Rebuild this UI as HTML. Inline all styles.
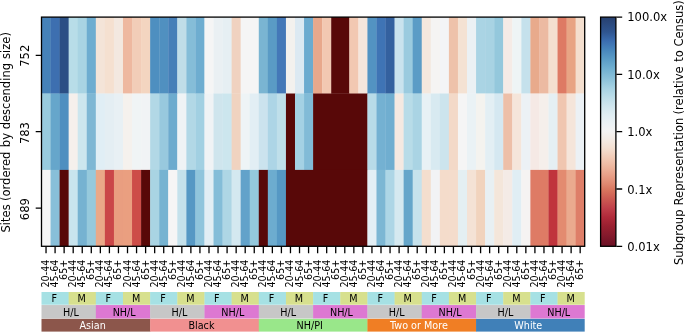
<!DOCTYPE html>
<html><head><meta charset="utf-8"><title>Subgroup Representation</title>
<style>html,body{margin:0;padding:0;background:#fff}svg{display:block}text{font-family:'DejaVu Sans','Liberation Sans',sans-serif;fill:#000}.s{font-size:9.62px}.b{font-size:11.55px}</style></head><body>
<svg width="685" height="333" viewBox="0 0 685 333">
<rect width="685" height="333" fill="#fff"/>
<defs><linearGradient id="g" x1="0" y1="0" x2="0" y2="1"><stop offset="0.0000" stop-color="#27406f"/><stop offset="0.0650" stop-color="#2f5590"/><stop offset="0.1043" stop-color="#3b6db0"/><stop offset="0.1435" stop-color="#4886bc"/><stop offset="0.1828" stop-color="#5a9cc6"/><stop offset="0.2221" stop-color="#6fafd0"/><stop offset="0.2701" stop-color="#8cc2da"/><stop offset="0.3093" stop-color="#a6d2e3"/><stop offset="0.3486" stop-color="#bcdde9"/><stop offset="0.3879" stop-color="#d0e6ee"/><stop offset="0.4271" stop-color="#e0eef3"/><stop offset="0.4664" stop-color="#ecf2f5"/><stop offset="0.4969" stop-color="#f4f4f4"/><stop offset="0.5318" stop-color="#f4ece6"/><stop offset="0.5711" stop-color="#f4e0d2"/><stop offset="0.6104" stop-color="#f2ccb8"/><stop offset="0.6497" stop-color="#eeb8a0"/><stop offset="0.6889" stop-color="#e8a088"/><stop offset="0.7282" stop-color="#e08870"/><stop offset="0.7544" stop-color="#d8755e"/><stop offset="0.7936" stop-color="#cc5a52"/><stop offset="0.8329" stop-color="#c0404a"/><stop offset="0.8722" stop-color="#b02a3a"/><stop offset="0.9114" stop-color="#9a2030"/><stop offset="0.9507" stop-color="#851a2c"/><stop offset="1.0000" stop-color="#6a1024"/></linearGradient></defs>
<g>
<rect x="41.50" y="17.10" width="9.35" height="76.70" fill="#4682b8"/>
<rect x="50.55" y="17.10" width="9.35" height="76.70" fill="#3d6fb0"/>
<rect x="59.61" y="17.10" width="9.35" height="76.70" fill="#2b4f85"/>
<rect x="68.66" y="17.10" width="9.35" height="76.70" fill="#b8dde8"/>
<rect x="77.71" y="17.10" width="9.35" height="76.70" fill="#a9d4e3"/>
<rect x="86.77" y="17.10" width="9.35" height="76.70" fill="#6eadd0"/>
<rect x="95.82" y="17.10" width="9.35" height="76.70" fill="#f4e4d8"/>
<rect x="104.87" y="17.10" width="9.35" height="76.70" fill="#f5e0d0"/>
<rect x="113.93" y="17.10" width="9.35" height="76.70" fill="#f3e8e0"/>
<rect x="122.98" y="17.10" width="9.35" height="76.70" fill="#eeb8a0"/>
<rect x="132.03" y="17.10" width="9.35" height="76.70" fill="#f2cdb8"/>
<rect x="141.09" y="17.10" width="9.35" height="76.70" fill="#f3d5c0"/>
<rect x="150.14" y="17.10" width="9.35" height="76.70" fill="#4e8fc0"/>
<rect x="159.19" y="17.10" width="9.35" height="76.70" fill="#5090c0"/>
<rect x="168.25" y="17.10" width="9.35" height="76.70" fill="#467fb8"/>
<rect x="177.30" y="17.10" width="9.35" height="76.70" fill="#c0dde8"/>
<rect x="186.35" y="17.10" width="9.35" height="76.70" fill="#85bdd8"/>
<rect x="195.41" y="17.10" width="9.35" height="76.70" fill="#6eadd0"/>
<rect x="204.46" y="17.10" width="9.35" height="76.70" fill="#f5f5f5"/>
<rect x="213.51" y="17.10" width="9.35" height="76.70" fill="#eaf0f3"/>
<rect x="222.57" y="17.10" width="9.35" height="76.70" fill="#e6eff3"/>
<rect x="231.62" y="17.10" width="9.35" height="76.70" fill="#f0d2c0"/>
<rect x="240.67" y="17.10" width="18.41" height="76.70" fill="#f5f5f5"/>
<rect x="258.78" y="17.10" width="9.35" height="76.70" fill="#7ab5d2"/>
<rect x="267.83" y="17.10" width="9.35" height="76.70" fill="#5a9bc5"/>
<rect x="276.89" y="17.10" width="9.35" height="76.70" fill="#4478b8"/>
<rect x="285.94" y="17.10" width="9.35" height="76.70" fill="#f3f1ee"/>
<rect x="294.99" y="17.10" width="9.35" height="76.70" fill="#dce9f2"/>
<rect x="304.05" y="17.10" width="9.35" height="76.70" fill="#6cabcf"/>
<rect x="313.10" y="17.10" width="9.35" height="76.70" fill="#e8a88c"/>
<rect x="322.15" y="17.10" width="9.35" height="76.70" fill="#f2c8b2"/>
<rect x="331.21" y="17.10" width="18.41" height="76.70" fill="#580808"/>
<rect x="349.31" y="17.10" width="9.35" height="76.70" fill="#f2c8b2"/>
<rect x="358.37" y="17.10" width="9.35" height="76.70" fill="#f5e6dc"/>
<rect x="367.42" y="17.10" width="9.35" height="76.70" fill="#5393c2"/>
<rect x="376.47" y="17.10" width="9.35" height="76.70" fill="#3f74b5"/>
<rect x="385.53" y="17.10" width="9.35" height="76.70" fill="#34619f"/>
<rect x="394.58" y="17.10" width="9.35" height="76.70" fill="#cae3ee"/>
<rect x="403.63" y="17.10" width="9.35" height="76.70" fill="#9bcbdf"/>
<rect x="412.69" y="17.10" width="9.35" height="76.70" fill="#5b9cc6"/>
<rect x="421.74" y="17.10" width="9.35" height="76.70" fill="#f4e8de"/>
<rect x="430.79" y="17.10" width="9.35" height="76.70" fill="#f5f4f3"/>
<rect x="439.85" y="17.10" width="9.35" height="76.70" fill="#f3f4f6"/>
<rect x="448.90" y="17.10" width="9.35" height="76.70" fill="#eec2aa"/>
<rect x="457.95" y="17.10" width="9.35" height="76.70" fill="#f4e2d3"/>
<rect x="467.01" y="17.10" width="9.35" height="76.70" fill="#ebf1f4"/>
<rect x="476.06" y="17.10" width="9.35" height="76.70" fill="#aad4e4"/>
<rect x="485.11" y="17.10" width="9.35" height="76.70" fill="#a8d3e3"/>
<rect x="494.17" y="17.10" width="9.35" height="76.70" fill="#94c8dc"/>
<rect x="503.22" y="17.10" width="9.35" height="76.70" fill="#f5ebe6"/>
<rect x="512.27" y="17.10" width="9.35" height="76.70" fill="#eef4f5"/>
<rect x="521.33" y="17.10" width="9.35" height="76.70" fill="#c5e1ec"/>
<rect x="530.38" y="17.10" width="9.35" height="76.70" fill="#e8aa8c"/>
<rect x="539.43" y="17.10" width="9.35" height="76.70" fill="#ecbaa2"/>
<rect x="548.49" y="17.10" width="9.35" height="76.70" fill="#f4dfcf"/>
<rect x="557.54" y="17.10" width="9.35" height="76.70" fill="#de7a64"/>
<rect x="566.59" y="17.10" width="9.35" height="76.70" fill="#e8a484"/>
<rect x="575.65" y="17.10" width="9.35" height="76.70" fill="#f4dfcf"/>
<rect x="41.50" y="93.50" width="9.35" height="76.70" fill="#98cbde"/>
<rect x="50.55" y="93.50" width="9.35" height="76.70" fill="#66a6cb"/>
<rect x="59.61" y="93.50" width="9.35" height="76.70" fill="#4f8fc0"/>
<rect x="68.66" y="93.50" width="9.35" height="76.70" fill="#f5f0ec"/>
<rect x="77.71" y="93.50" width="9.35" height="76.70" fill="#cce6ee"/>
<rect x="86.77" y="93.50" width="9.35" height="76.70" fill="#7eb7d4"/>
<rect x="95.82" y="93.50" width="9.35" height="76.70" fill="#e0eef5"/>
<rect x="104.87" y="93.50" width="9.35" height="76.70" fill="#e4eef3"/>
<rect x="113.93" y="93.50" width="9.35" height="76.70" fill="#e8f0f4"/>
<rect x="122.98" y="93.50" width="9.35" height="76.70" fill="#f5f1ed"/>
<rect x="132.03" y="93.50" width="9.35" height="76.70" fill="#f0f4f5"/>
<rect x="141.09" y="93.50" width="9.35" height="76.70" fill="#f1f3f5"/>
<rect x="150.14" y="93.50" width="9.35" height="76.70" fill="#b2d8e6"/>
<rect x="159.19" y="93.50" width="9.35" height="76.70" fill="#98c9de"/>
<rect x="168.25" y="93.50" width="9.35" height="76.70" fill="#6dabce"/>
<rect x="177.30" y="93.50" width="9.35" height="76.70" fill="#eff3f5"/>
<rect x="186.35" y="93.50" width="9.35" height="76.70" fill="#b2d8e6"/>
<rect x="195.41" y="93.50" width="9.35" height="76.70" fill="#a2d0e2"/>
<rect x="204.46" y="93.50" width="9.35" height="76.70" fill="#f0f3f5"/>
<rect x="213.51" y="93.50" width="9.35" height="76.70" fill="#cfe5ed"/>
<rect x="222.57" y="93.50" width="9.35" height="76.70" fill="#cce6ee"/>
<rect x="231.62" y="93.50" width="9.35" height="76.70" fill="#f0d3c0"/>
<rect x="240.67" y="93.50" width="9.35" height="76.70" fill="#eef4f6"/>
<rect x="249.73" y="93.50" width="9.35" height="76.70" fill="#e2eef4"/>
<rect x="258.78" y="93.50" width="9.35" height="76.70" fill="#cbe3ee"/>
<rect x="267.83" y="93.50" width="9.35" height="76.70" fill="#add5e6"/>
<rect x="276.89" y="93.50" width="9.35" height="76.70" fill="#bfdfea"/>
<rect x="285.94" y="93.50" width="9.35" height="76.70" fill="#580808"/>
<rect x="294.99" y="93.50" width="9.35" height="76.70" fill="#a4d1e4"/>
<rect x="304.05" y="93.50" width="9.35" height="76.70" fill="#82bbd7"/>
<rect x="313.10" y="93.50" width="54.62" height="76.70" fill="#580808"/>
<rect x="367.42" y="93.50" width="9.35" height="76.70" fill="#b8dbe8"/>
<rect x="376.47" y="93.50" width="9.35" height="76.70" fill="#74b1d2"/>
<rect x="385.53" y="93.50" width="9.35" height="76.70" fill="#70aed0"/>
<rect x="394.58" y="93.50" width="9.35" height="76.70" fill="#f5e9e1"/>
<rect x="403.63" y="93.50" width="9.35" height="76.70" fill="#b8dce8"/>
<rect x="412.69" y="93.50" width="9.35" height="76.70" fill="#aad4e4"/>
<rect x="421.74" y="93.50" width="9.35" height="76.70" fill="#e8f1f5"/>
<rect x="430.79" y="93.50" width="9.35" height="76.70" fill="#d8eaf1"/>
<rect x="439.85" y="93.50" width="9.35" height="76.70" fill="#cce4ed"/>
<rect x="448.90" y="93.50" width="9.35" height="76.70" fill="#f3d9c8"/>
<rect x="457.95" y="93.50" width="9.35" height="76.70" fill="#f5f5f5"/>
<rect x="467.01" y="93.50" width="9.35" height="76.70" fill="#eaf2f5"/>
<rect x="476.06" y="93.50" width="9.35" height="76.70" fill="#f4f3ef"/>
<rect x="485.11" y="93.50" width="9.35" height="76.70" fill="#e3eff4"/>
<rect x="494.17" y="93.50" width="9.35" height="76.70" fill="#d5e8f1"/>
<rect x="503.22" y="93.50" width="9.35" height="76.70" fill="#edbfa8"/>
<rect x="512.27" y="93.50" width="9.35" height="76.70" fill="#f5e5da"/>
<rect x="521.33" y="93.50" width="9.35" height="76.70" fill="#ecf1f5"/>
<rect x="530.38" y="93.50" width="9.35" height="76.70" fill="#f5e9e5"/>
<rect x="539.43" y="93.50" width="9.35" height="76.70" fill="#f5efeb"/>
<rect x="548.49" y="93.50" width="9.35" height="76.70" fill="#e5eff3"/>
<rect x="557.54" y="93.50" width="9.35" height="76.70" fill="#f0c6b0"/>
<rect x="566.59" y="93.50" width="9.35" height="76.70" fill="#f5e5da"/>
<rect x="575.65" y="93.50" width="9.35" height="76.70" fill="#ecf1f5"/>
<rect x="41.50" y="169.90" width="9.35" height="76.40" fill="#f5f5f5"/>
<rect x="50.55" y="169.90" width="9.35" height="76.40" fill="#88bfd9"/>
<rect x="59.61" y="169.90" width="9.35" height="76.40" fill="#580808"/>
<rect x="68.66" y="169.90" width="9.35" height="76.40" fill="#c8e4ee"/>
<rect x="77.71" y="169.90" width="9.35" height="76.40" fill="#76b2d1"/>
<rect x="86.77" y="169.90" width="9.35" height="76.40" fill="#96c9dc"/>
<rect x="95.82" y="169.90" width="9.35" height="76.40" fill="#eaa888"/>
<rect x="104.87" y="169.90" width="9.35" height="76.40" fill="#ca4648"/>
<rect x="113.93" y="169.90" width="9.35" height="76.40" fill="#e99e80"/>
<rect x="122.98" y="169.90" width="9.35" height="76.40" fill="#ea9f80"/>
<rect x="132.03" y="169.90" width="9.35" height="76.40" fill="#cd4d48"/>
<rect x="141.09" y="169.90" width="9.35" height="76.40" fill="#580808"/>
<rect x="150.14" y="169.90" width="9.35" height="76.40" fill="#a9d4e3"/>
<rect x="159.19" y="169.90" width="9.35" height="76.40" fill="#76b3d1"/>
<rect x="168.25" y="169.90" width="9.35" height="76.40" fill="#f6f5f5"/>
<rect x="177.30" y="169.90" width="9.35" height="76.40" fill="#c5e1eb"/>
<rect x="186.35" y="169.90" width="9.35" height="76.40" fill="#5698c4"/>
<rect x="195.41" y="169.90" width="9.35" height="76.40" fill="#90c5dc"/>
<rect x="204.46" y="169.90" width="9.35" height="76.40" fill="#e2eef4"/>
<rect x="213.51" y="169.90" width="9.35" height="76.40" fill="#84bdd8"/>
<rect x="222.57" y="169.90" width="9.35" height="76.40" fill="#aed6e5"/>
<rect x="231.62" y="169.90" width="9.35" height="76.40" fill="#d4e8f0"/>
<rect x="240.67" y="169.90" width="9.35" height="76.40" fill="#62a2ca"/>
<rect x="249.73" y="169.90" width="9.35" height="76.40" fill="#94c9dd"/>
<rect x="258.78" y="169.90" width="9.35" height="76.40" fill="#580808"/>
<rect x="267.83" y="169.90" width="9.35" height="76.40" fill="#6daccf"/>
<rect x="276.89" y="169.90" width="9.35" height="76.40" fill="#5698c4"/>
<rect x="285.94" y="169.90" width="81.78" height="76.40" fill="#580808"/>
<rect x="367.42" y="169.90" width="9.35" height="76.40" fill="#e3eff5"/>
<rect x="376.47" y="169.90" width="9.35" height="76.40" fill="#7cb7d4"/>
<rect x="385.53" y="169.90" width="9.35" height="76.40" fill="#add6e6"/>
<rect x="394.58" y="169.90" width="9.35" height="76.40" fill="#d5e9f0"/>
<rect x="403.63" y="169.90" width="9.35" height="76.40" fill="#65a6ca"/>
<rect x="412.69" y="169.90" width="9.35" height="76.40" fill="#c6e2ec"/>
<rect x="421.74" y="169.90" width="9.35" height="76.40" fill="#f4dece"/>
<rect x="430.79" y="169.90" width="9.35" height="76.40" fill="#f2f3f5"/>
<rect x="439.85" y="169.90" width="9.35" height="76.40" fill="#f4dccb"/>
<rect x="448.90" y="169.90" width="9.35" height="76.40" fill="#f4dccc"/>
<rect x="457.95" y="169.90" width="9.35" height="76.40" fill="#e4eff2"/>
<rect x="467.01" y="169.90" width="9.35" height="76.40" fill="#f4e2d5"/>
<rect x="476.06" y="169.90" width="9.35" height="76.40" fill="#f1d3bd"/>
<rect x="485.11" y="169.90" width="9.35" height="76.40" fill="#e8f0f3"/>
<rect x="494.17" y="169.90" width="9.35" height="76.40" fill="#f4e6da"/>
<rect x="503.22" y="169.90" width="9.35" height="76.40" fill="#f4ebe6"/>
<rect x="512.27" y="169.90" width="9.35" height="76.40" fill="#e0eef4"/>
<rect x="521.33" y="169.90" width="9.35" height="76.40" fill="#f5f3f2"/>
<rect x="530.38" y="169.90" width="18.41" height="76.40" fill="#de7b65"/>
<rect x="548.49" y="169.90" width="9.35" height="76.40" fill="#c0343c"/>
<rect x="557.54" y="169.90" width="9.35" height="76.40" fill="#e38b70"/>
<rect x="566.59" y="169.90" width="9.35" height="76.40" fill="#eaaa8e"/>
<rect x="575.65" y="169.90" width="9.35" height="76.40" fill="#de7e68"/>
</g>
<rect x="41.50" y="17.10" width="543.20" height="229.20" fill="none" stroke="#000" stroke-width="1.3"/>
<path d="M46.03 246.80v6.4M55.08 246.80v6.4M64.13 246.80v6.4M73.19 246.80v6.4M82.24 246.80v6.4M91.29 246.80v6.4M100.35 246.80v6.4M109.40 246.80v6.4M118.45 246.80v6.4M127.51 246.80v6.4M136.56 246.80v6.4M145.61 246.80v6.4M154.67 246.80v6.4M163.72 246.80v6.4M172.77 246.80v6.4M181.83 246.80v6.4M190.88 246.80v6.4M199.93 246.80v6.4M208.99 246.80v6.4M218.04 246.80v6.4M227.09 246.80v6.4M236.15 246.80v6.4M245.20 246.80v6.4M254.25 246.80v6.4M263.31 246.80v6.4M272.36 246.80v6.4M281.41 246.80v6.4M290.47 246.80v6.4M299.52 246.80v6.4M308.57 246.80v6.4M317.63 246.80v6.4M326.68 246.80v6.4M335.73 246.80v6.4M344.79 246.80v6.4M353.84 246.80v6.4M362.89 246.80v6.4M371.95 246.80v6.4M381.00 246.80v6.4M390.05 246.80v6.4M399.11 246.80v6.4M408.16 246.80v6.4M417.21 246.80v6.4M426.27 246.80v6.4M435.32 246.80v6.4M444.37 246.80v6.4M453.43 246.80v6.4M462.48 246.80v6.4M471.53 246.80v6.4M480.59 246.80v6.4M489.64 246.80v6.4M498.69 246.80v6.4M507.75 246.80v6.4M516.80 246.80v6.4M525.85 246.80v6.4M534.91 246.80v6.4M543.96 246.80v6.4M553.01 246.80v6.4M562.07 246.80v6.4M571.12 246.80v6.4M580.17 246.80v6.4M41.00 55.30h-5.3M41.00 131.70h-5.3M41.00 208.10h-5.3M616.40 17.10h5.8M616.40 74.40h5.8M616.40 131.70h5.8M616.40 189.00h5.8M616.40 246.30h5.8" stroke="#000" stroke-width="1.3" fill="none"/>
<g class="s">
<text transform="translate(49.03 259.6) rotate(-90)" text-anchor="end">20-44</text>
<text transform="translate(58.08 259.6) rotate(-90)" text-anchor="end">45-64</text>
<text transform="translate(67.13 259.6) rotate(-90)" text-anchor="end">65+</text>
<text transform="translate(76.19 259.6) rotate(-90)" text-anchor="end">20-44</text>
<text transform="translate(85.24 259.6) rotate(-90)" text-anchor="end">45-64</text>
<text transform="translate(94.29 259.6) rotate(-90)" text-anchor="end">65+</text>
<text transform="translate(103.35 259.6) rotate(-90)" text-anchor="end">20-44</text>
<text transform="translate(112.40 259.6) rotate(-90)" text-anchor="end">45-64</text>
<text transform="translate(121.45 259.6) rotate(-90)" text-anchor="end">65+</text>
<text transform="translate(130.51 259.6) rotate(-90)" text-anchor="end">20-44</text>
<text transform="translate(139.56 259.6) rotate(-90)" text-anchor="end">45-64</text>
<text transform="translate(148.61 259.6) rotate(-90)" text-anchor="end">65+</text>
<text transform="translate(157.67 259.6) rotate(-90)" text-anchor="end">20-44</text>
<text transform="translate(166.72 259.6) rotate(-90)" text-anchor="end">45-64</text>
<text transform="translate(175.77 259.6) rotate(-90)" text-anchor="end">65+</text>
<text transform="translate(184.83 259.6) rotate(-90)" text-anchor="end">20-44</text>
<text transform="translate(193.88 259.6) rotate(-90)" text-anchor="end">45-64</text>
<text transform="translate(202.93 259.6) rotate(-90)" text-anchor="end">65+</text>
<text transform="translate(211.99 259.6) rotate(-90)" text-anchor="end">20-44</text>
<text transform="translate(221.04 259.6) rotate(-90)" text-anchor="end">45-64</text>
<text transform="translate(230.09 259.6) rotate(-90)" text-anchor="end">65+</text>
<text transform="translate(239.15 259.6) rotate(-90)" text-anchor="end">20-44</text>
<text transform="translate(248.20 259.6) rotate(-90)" text-anchor="end">45-64</text>
<text transform="translate(257.25 259.6) rotate(-90)" text-anchor="end">65+</text>
<text transform="translate(266.31 259.6) rotate(-90)" text-anchor="end">20-44</text>
<text transform="translate(275.36 259.6) rotate(-90)" text-anchor="end">45-64</text>
<text transform="translate(284.41 259.6) rotate(-90)" text-anchor="end">65+</text>
<text transform="translate(293.47 259.6) rotate(-90)" text-anchor="end">20-44</text>
<text transform="translate(302.52 259.6) rotate(-90)" text-anchor="end">45-64</text>
<text transform="translate(311.57 259.6) rotate(-90)" text-anchor="end">65+</text>
<text transform="translate(320.63 259.6) rotate(-90)" text-anchor="end">20-44</text>
<text transform="translate(329.68 259.6) rotate(-90)" text-anchor="end">45-64</text>
<text transform="translate(338.73 259.6) rotate(-90)" text-anchor="end">65+</text>
<text transform="translate(347.79 259.6) rotate(-90)" text-anchor="end">20-44</text>
<text transform="translate(356.84 259.6) rotate(-90)" text-anchor="end">45-64</text>
<text transform="translate(365.89 259.6) rotate(-90)" text-anchor="end">65+</text>
<text transform="translate(374.95 259.6) rotate(-90)" text-anchor="end">20-44</text>
<text transform="translate(384.00 259.6) rotate(-90)" text-anchor="end">45-64</text>
<text transform="translate(393.05 259.6) rotate(-90)" text-anchor="end">65+</text>
<text transform="translate(402.11 259.6) rotate(-90)" text-anchor="end">20-44</text>
<text transform="translate(411.16 259.6) rotate(-90)" text-anchor="end">45-64</text>
<text transform="translate(420.21 259.6) rotate(-90)" text-anchor="end">65+</text>
<text transform="translate(429.27 259.6) rotate(-90)" text-anchor="end">20-44</text>
<text transform="translate(438.32 259.6) rotate(-90)" text-anchor="end">45-64</text>
<text transform="translate(447.37 259.6) rotate(-90)" text-anchor="end">65+</text>
<text transform="translate(456.43 259.6) rotate(-90)" text-anchor="end">20-44</text>
<text transform="translate(465.48 259.6) rotate(-90)" text-anchor="end">45-64</text>
<text transform="translate(474.53 259.6) rotate(-90)" text-anchor="end">65+</text>
<text transform="translate(483.59 259.6) rotate(-90)" text-anchor="end">20-44</text>
<text transform="translate(492.64 259.6) rotate(-90)" text-anchor="end">45-64</text>
<text transform="translate(501.69 259.6) rotate(-90)" text-anchor="end">65+</text>
<text transform="translate(510.75 259.6) rotate(-90)" text-anchor="end">20-44</text>
<text transform="translate(519.80 259.6) rotate(-90)" text-anchor="end">45-64</text>
<text transform="translate(528.85 259.6) rotate(-90)" text-anchor="end">65+</text>
<text transform="translate(537.91 259.6) rotate(-90)" text-anchor="end">20-44</text>
<text transform="translate(546.96 259.6) rotate(-90)" text-anchor="end">45-64</text>
<text transform="translate(556.01 259.6) rotate(-90)" text-anchor="end">65+</text>
<text transform="translate(565.07 259.6) rotate(-90)" text-anchor="end">20-44</text>
<text transform="translate(574.12 259.6) rotate(-90)" text-anchor="end">45-64</text>
<text transform="translate(583.17 259.6) rotate(-90)" text-anchor="end">65+</text>
</g>
<g class="b">
<text transform="translate(28.6 55.80) rotate(-90)" text-anchor="middle">752</text>
<text transform="translate(28.6 133.10) rotate(-90)" text-anchor="middle">783</text>
<text transform="translate(28.6 209.20) rotate(-90)" text-anchor="middle">689</text>
<text transform="translate(9.6 131.70) rotate(-90)" text-anchor="middle"><tspan dx="-0.6">Sites</tspan><tspan dx="-0.4"> (ordered</tspan><tspan dx="0.7"> by descending</tspan><tspan dx="0.3"> size)</tspan></text>
<text x="627.2" y="21.30">100.0x</text>
<text x="627.2" y="78.90">10.0x</text>
<text x="627.2" y="136.40">1.0x</text>
<text x="627.2" y="193.80">0.1x</text>
<text x="627.2" y="251.30">0.01x</text>
<text transform="translate(682.6 131.70) rotate(-90)" text-anchor="middle"><tspan dx="-0.9">Subgroup</tspan><tspan dx="0.4"> Representation </tspan><tspan dx="-0.4">(relative</tspan><tspan dx="0.9"> to Census)</tspan></text>
</g>
<rect x="600.60" y="17.10" width="15.30" height="229.20" fill="url(#g)" stroke="#000" stroke-width="1.3"/>
<g class="s" text-anchor="middle">
<rect x="41.50" y="292.00" width="27.46" height="12.75" fill="#a6e1e4"/>
<rect x="68.66" y="292.00" width="27.46" height="12.75" fill="#d7e08e"/>
<rect x="95.82" y="292.00" width="27.46" height="12.75" fill="#a6e1e4"/>
<rect x="122.98" y="292.00" width="27.46" height="12.75" fill="#d7e08e"/>
<rect x="150.14" y="292.00" width="27.46" height="12.75" fill="#a6e1e4"/>
<rect x="177.30" y="292.00" width="27.46" height="12.75" fill="#d7e08e"/>
<rect x="204.46" y="292.00" width="27.46" height="12.75" fill="#a6e1e4"/>
<rect x="231.62" y="292.00" width="27.46" height="12.75" fill="#d7e08e"/>
<rect x="258.78" y="292.00" width="27.46" height="12.75" fill="#a6e1e4"/>
<rect x="285.94" y="292.00" width="27.46" height="12.75" fill="#d7e08e"/>
<rect x="313.10" y="292.00" width="27.46" height="12.75" fill="#a6e1e4"/>
<rect x="340.26" y="292.00" width="27.46" height="12.75" fill="#d7e08e"/>
<rect x="367.42" y="292.00" width="27.46" height="12.75" fill="#a6e1e4"/>
<rect x="394.58" y="292.00" width="27.46" height="12.75" fill="#d7e08e"/>
<rect x="421.74" y="292.00" width="27.46" height="12.75" fill="#a6e1e4"/>
<rect x="448.90" y="292.00" width="27.46" height="12.75" fill="#d7e08e"/>
<rect x="476.06" y="292.00" width="27.46" height="12.75" fill="#a6e1e4"/>
<rect x="503.22" y="292.00" width="27.46" height="12.75" fill="#d7e08e"/>
<rect x="530.38" y="292.00" width="27.46" height="12.75" fill="#a6e1e4"/>
<rect x="557.54" y="292.00" width="27.16" height="12.75" fill="#d7e08e"/>
<rect x="41.50" y="305.05" width="54.62" height="13.50" fill="#c7c7c7"/>
<rect x="95.82" y="305.05" width="54.62" height="13.50" fill="#dd78d2"/>
<rect x="150.14" y="305.05" width="54.62" height="13.50" fill="#c7c7c7"/>
<rect x="204.46" y="305.05" width="54.62" height="13.50" fill="#dd78d2"/>
<rect x="258.78" y="305.05" width="54.62" height="13.50" fill="#c7c7c7"/>
<rect x="313.10" y="305.05" width="54.62" height="13.50" fill="#dd78d2"/>
<rect x="367.42" y="305.05" width="54.62" height="13.50" fill="#c7c7c7"/>
<rect x="421.74" y="305.05" width="54.62" height="13.50" fill="#dd78d2"/>
<rect x="476.06" y="305.05" width="54.62" height="13.50" fill="#c7c7c7"/>
<rect x="530.38" y="305.05" width="54.32" height="13.50" fill="#dd78d2"/>
<rect x="41.50" y="318.85" width="108.94" height="12.75" fill="#8c564b"/>
<rect x="150.14" y="318.85" width="108.94" height="12.75" fill="#f19090"/>
<rect x="258.78" y="318.85" width="108.94" height="12.75" fill="#99e78a"/>
<rect x="367.42" y="318.85" width="108.94" height="12.75" fill="#f07e24"/>
<rect x="476.06" y="318.85" width="108.64" height="12.75" fill="#4080b8"/>
<text x="54.28" y="302.38">F</text>
<text x="81.74" y="302.38">M</text>
<text x="108.20" y="302.38">F</text>
<text x="136.11" y="302.38">M</text>
<text x="162.92" y="302.38">F</text>
<text x="190.38" y="302.38">M</text>
<text x="216.84" y="302.38">F</text>
<text x="244.75" y="302.38">M</text>
<text x="271.56" y="302.38">F</text>
<text x="299.02" y="302.38">M</text>
<text x="325.48" y="302.38">F</text>
<text x="353.39" y="302.38">M</text>
<text x="380.20" y="302.38">F</text>
<text x="407.66" y="302.38">M</text>
<text x="434.12" y="302.38">F</text>
<text x="462.03" y="302.38">M</text>
<text x="488.84" y="302.38">F</text>
<text x="516.30" y="302.38">M</text>
<text x="542.76" y="302.38">F</text>
<text x="570.67" y="302.38">M</text>
<text x="70.86" y="315.80">H/L</text>
<text x="124.18" y="315.80">NH/L</text>
<text x="179.50" y="315.80">H/L</text>
<text x="232.82" y="315.80">NH/L</text>
<text x="288.14" y="315.80">H/L</text>
<text x="341.46" y="315.80">NH/L</text>
<text x="396.78" y="315.80">H/L</text>
<text x="450.10" y="315.80">NH/L</text>
<text x="505.42" y="315.80">H/L</text>
<text x="558.74" y="315.80">NH/L</text>
<text x="92.62" y="329.23" style="fill:#fff">Asian</text>
<text x="201.46" y="329.23" style="fill:#000">Black</text>
<text x="309.70" y="329.23" style="fill:#000">NH/PI</text>
<text x="418.94" y="329.23" style="fill:#fff">Two or More</text>
<text x="528.28" y="329.23" style="fill:#fff">White</text>
</g>
</svg></body></html>
